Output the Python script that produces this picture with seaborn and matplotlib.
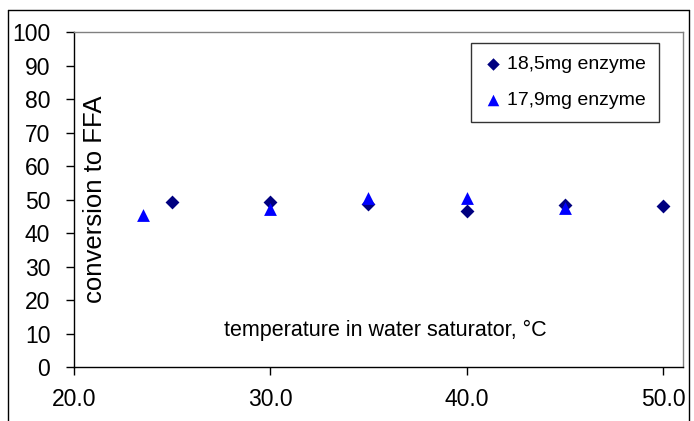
import matplotlib
matplotlib.use("Agg")
import matplotlib.pyplot as plt
import seaborn as sns
import pandas as pd

# 18,5mg enzyme
temp_a = [25, 30, 35, 40, 45, 50]
conv_a = [49.4, 49.4, 48.8, 46.7, 48.3, 48.0]
# 17,9mg enzyme
temp_b = [23.5, 30, 35, 40, 45]
conv_b = [45.5, 47.3, 50.6, 50.4, 47.6]

sns.set_style("white")
plt.rcParams['font.family'] = ['Liberation Sans', 'DejaVu Sans']
plt.rcParams['text.color'] = 'black'
plt.rcParams['xtick.color'] = 'black'
plt.rcParams['ytick.color'] = 'black'

fig = plt.figure(figsize=(6.94, 4.21), dpi=100)
ax = fig.add_axes([0.1066, 0.128, 0.877, 0.796])

df_a = pd.DataFrame({"t": temp_a, "c": conv_a})
df_b = pd.DataFrame({"t": temp_b, "c": conv_b})
sns.scatterplot(data=df_a, x="t", y="c", marker="D", s=50, color="#000080",
                edgecolor="#000080", linewidth=0, label="18,5mg enzyme", ax=ax, zorder=3)
sns.scatterplot(data=df_b, x="t", y="c", marker="^", s=85, color="#0000FF",
                edgecolor="#0000FF", linewidth=0, label="17,9mg enzyme", ax=ax, zorder=3)

ax.set_xlim(20, 51)
ax.set_ylim(0, 100)
ax.set_xticks([20, 30, 40, 50])
ax.set_xticklabels(["20.0", "30.0", "40.0", "50.0"])
ax.set_yticks(range(0, 101, 10))
ax.tick_params(axis="both", labelsize=16.5, direction="out", length=6, width=1,
               color="black", bottom=True, left=True)
ax.tick_params(axis="x", pad=9)
ax.tick_params(axis="y", pad=11)
ax.set_xlabel("")
ax.set_ylabel("")

for side in ["left", "bottom"]:
    ax.spines[side].set_color("black")
    ax.spines[side].set_linewidth(1)
for side in ["top", "right"]:
    ax.spines[side].set_color("#808080")
    ax.spines[side].set_linewidth(1)

ax.text(0.035, 0.5, "conversion to FFA", transform=ax.transAxes, rotation=90,
        ha="center", va="center", fontsize=18.5)
ax.text(0.512, 0.11, "temperature in water saturator, °C", transform=ax.transAxes,
        ha="center", va="center", fontsize=15.5)

leg = ax.legend(loc="upper right", bbox_to_anchor=(0.961, 0.968), fontsize=14,
                frameon=True, fancybox=False, handletextpad=0.3, labelspacing=0.95,
                borderpad=0.65, handlelength=0.9, borderaxespad=0, markerscale=0.9)
leg.get_frame().set_edgecolor("black")
leg.get_frame().set_linewidth(1)

# outer chart border
x0, x1, y1 = 8 / 694, 689 / 694, 411 / 421
fig.add_artist(plt.Line2D([x0, x0], [0, y1], transform=fig.transFigure, color="black", lw=1))
fig.add_artist(plt.Line2D([x0, x1], [y1, y1], transform=fig.transFigure, color="black", lw=1))
fig.add_artist(plt.Line2D([x1, x1], [0, y1], transform=fig.transFigure, color="black", lw=1))

fig.savefig("out.png", dpi=100)
